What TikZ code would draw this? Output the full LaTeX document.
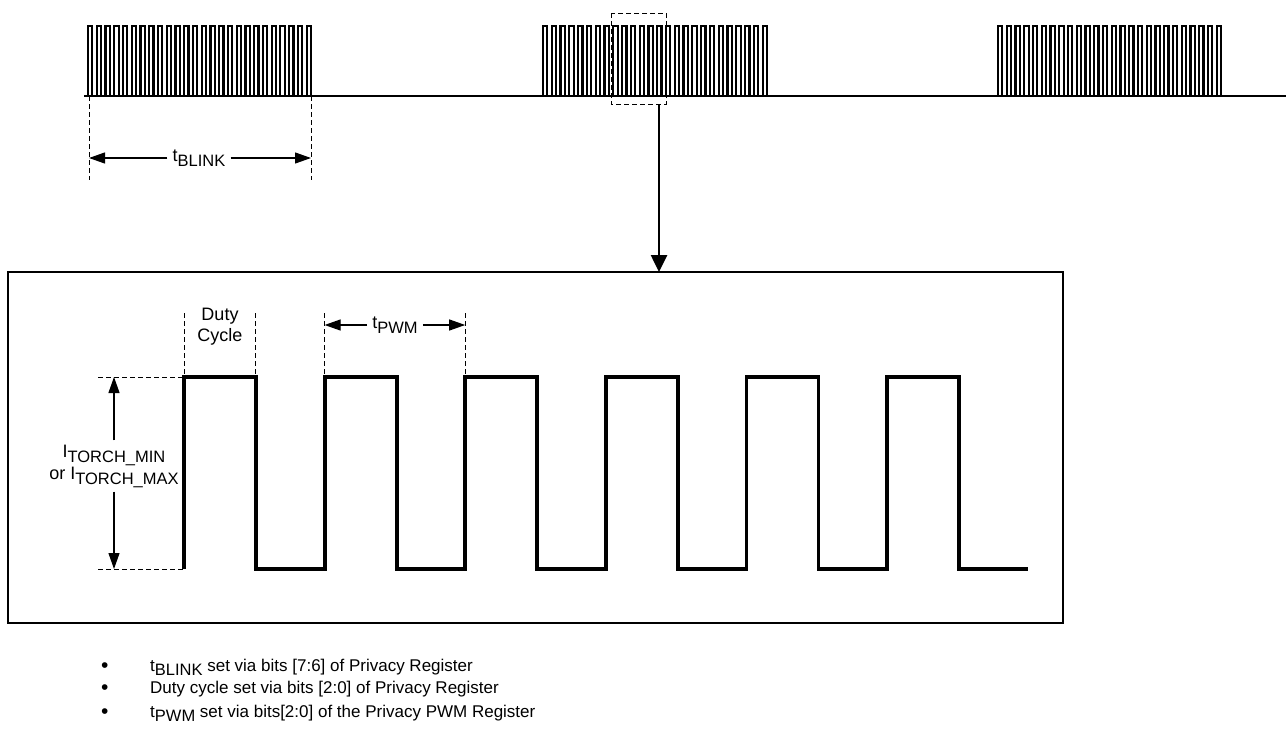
\documentclass[tikz,border=0pt]{standalone}
\usepackage{fontspec}
\setmainfont{Liberation Sans}
\usetikzlibrary{arrows.meta}
\newcommand{\lowsub}[1]{\raisebox{-0.28em}{\fontsize{16.5}{16.5}\selectfont #1}}
\begin{document}
\begin{tikzpicture}[x=1pt,y=-1pt,
  font=\fontsize{18}{21}\selectfont,
  wave/.style={line width=2.2pt},
  pwm/.style={line width=3.8pt, line join=miter},
  dim/.style={line width=0.9pt, dash pattern=on 5pt off 3pt},
  meas/.style={line width=1.2pt, -{Triangle[length=16pt,width=11pt]}},
  lbl/.style={inner xsep=5pt, inner ysep=4pt},
  bul/.style={anchor=base west, inner sep=0pt, font=\fontsize{17}{20}\selectfont}]
\useasboundingbox (0,0) rectangle (1288,739);

% ---- top burst train ----
\draw[wave] (84,96) -- (1286,96);
\foreach \s/\e in {88/311, 543/767, 998/1221}{
  \pgfmathsetmacro\p{(\e-\s)/25.5}
  \foreach \k in {0,...,25}{
    \pgfmathsetmacro\xa{\s+\k*\p}
    \pgfmathsetmacro\xb{\xa+\p/2}
    \draw[wave] (\xa,96) -- (\xa,26) -- (\xb,26) -- (\xb,96);
  }
}

% zoom window and arrow
\draw[dim] (611,13) rectangle (666,104);
\coordinate (zsrc) at (659,104);
\coordinate (boxtop) at (659,272);
\draw[line width=2.6pt, -{Triangle[length=17pt,width=16pt]}] (zsrc) -- (boxtop);

% t_BLINK
\draw[dim] (89,96) -- (89,180);
\draw[dim] (311,96) -- (311,180);
\node[lbl] (tb) at (199,158) {t\lowsub{BLINK}};
\coordinate (tbl) at (89,158);
\coordinate (tbr) at (311,158);
\draw[meas] (tb.west) -- (tbl);
\draw[meas] (tb.east) -- (tbr);

% ---- detail box ----
\draw[line width=1.4pt] (8,272) rectangle (1063,623);

\draw[pwm] (184,569) -- (184,377) -- (256,377) -- (256,569)
  -- (324.6,569) -- (324.6,377) -- (396.6,377) -- (396.6,569)
  -- (465.2,569) -- (465.2,377) -- (537.2,377) -- (537.2,569)
  -- (605.8,569) -- (605.8,377) -- (677.8,377) -- (677.8,569)
  -- (746.4,569) -- (746.4,377) -- (818.4,377) -- (818.4,569)
  -- (887,569) -- (887,377) -- (959,377) -- (959,569)
  -- (1028,569);

% amplitude
\draw[dim] (98,377) -- (184,377);
\draw[dim] (98,569) -- (184,569);
\node[lbl, align=center] (it) at (114,466) {I\lowsub{TORCH\_MIN}\\[1pt]or I\lowsub{TORCH\_MAX}};
\coordinate (itt) at (114,377);
\coordinate (itb) at (114,569);
\draw[meas] (it.north) -- (itt);
\draw[meas] (it.south) -- (itb);

% duty cycle
\draw[dim] (184,313) -- (184,377);
\draw[dim] (255,313) -- (255,377);
\node[align=center, inner sep=0pt] (dc) at (220,327) {Duty\\Cycle};

% t_PWM
\draw[dim] (324.6,313) -- (324.6,377);
\draw[dim] (465.2,313) -- (465.2,377);
\node[lbl] (tp) at (395,325) {t\lowsub{PWM}};
\coordinate (tpl) at (324.6,325);
\coordinate (tpr) at (465.2,325);
\draw[meas] (tp.west) -- (tpl);
\draw[meas] (tp.east) -- (tpr);

% ---- notes ----
\node[bul, font=\fontsize{21}{20}\selectfont] (b1) at (101,672) {•};
\node[bul] (n1) at (150,671) {t\lowsub{BLINK} set via bits [7:6] of Privacy Register};
\node[bul, font=\fontsize{21}{20}\selectfont] (b2) at (101,694) {•};
\node[bul] (n2) at (150,693) {Duty cycle set via bits [2:0] of Privacy Register};
\node[bul, font=\fontsize{21}{20}\selectfont] (b3) at (101,718) {•};
\node[bul] (n3) at (150,717) {t\lowsub{PWM} set via bits[2:0] of the Privacy PWM Register};
\end{tikzpicture}
\end{document}
